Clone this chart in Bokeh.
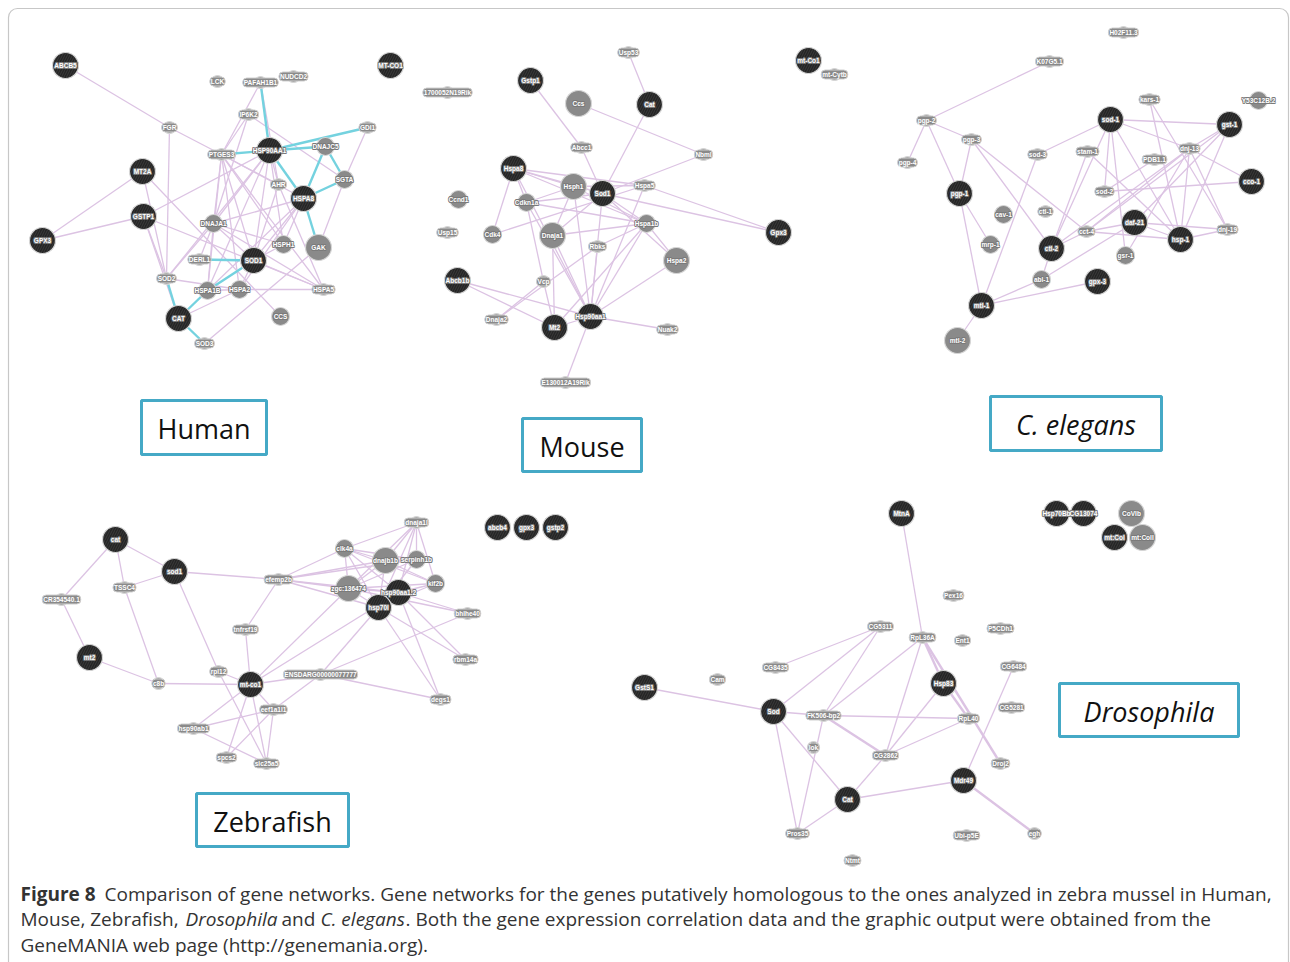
from bokeh.plotting import figure
from bokeh.models import Range1d, BoxAnnotation
from bokeh.core.properties import value
from bokeh.embed import file_html
from bokeh.resources import INLINE

# ---------------- Human ----------------
human_genes = ["ABCB5", "MT-CO1", "LCK", "PAFAH1B1", "NUDCD2", "IP6K2", "FGR", "GDI1",
               "PTGES3", "HSP90AA1", "DNAJC5", "AHR", "SGTA", "HSPA8", "MT2A", "GSTP1",
               "DNAJA1", "GPX3", "GAK", "HSPH1", "DERL1", "SOD1", "SOD2", "HSPA1B",
               "HSPA2", "HSPA5", "CAT", "CCS", "SOD3"]
human_x = [65, 390, 217, 260, 293, 248, 169, 367, 221, 269, 325, 278, 344, 303, 142, 143,
           213, 42, 318, 283, 199, 253, 166, 207, 239, 323, 178, 280, 204]
human_y = [65, 65, 81, 82, 76, 114, 127, 127, 154, 150, 146, 184, 179, 198, 171, 216,
           223, 240, 247, 244, 259, 260, 278, 290, 289, 289, 318, 316, 343]
human_query = [1, 1, 0, 0, 0, 0, 0, 0, 0, 1, 0, 0, 0, 1, 1, 1, 0, 1, 0, 0, 0, 1, 0, 0, 0, 0, 1, 0, 0]
human_score = [3, 3, 1, 1, 1, 1, 1, 1, 1, 3, 2, 1, 2, 3, 3, 3, 2, 3, 3, 2, 1, 3, 1, 2, 2, 1, 3, 2, 1]
human_coexp = [
    ("ABCB5", "FGR"), ("FGR", "PTGES3"), ("FGR", "SOD2"), ("MT2A", "GPX3"), ("GSTP1", "GPX3"),
    ("MT2A", "SOD2"), ("MT2A", "CCS"), ("GSTP1", "HSP90AA1"), ("GSTP1", "SOD2"), ("GSTP1", "HSPA5"),
    ("GSTP1", "CAT"), ("PAFAH1B1", "PTGES3"), ("PAFAH1B1", "AHR"), ("IP6K2", "PTGES3"),
    ("IP6K2", "SGTA"), ("IP6K2", "DNAJA1"), ("PTGES3", "DNAJA1"), ("PTGES3", "SOD1"),
    ("PTGES3", "HSPH1"), ("PTGES3", "AHR"), ("PTGES3", "HSPA5"), ("PTGES3", "HSPA2"),
    ("PTGES3", "HSPA1B"), ("PTGES3", "HSPA8"), ("HSP90AA1", "DNAJA1"), ("HSP90AA1", "SOD1"),
    ("HSP90AA1", "HSPH1"), ("HSP90AA1", "HSPA1B"), ("HSP90AA1", "AHR"), ("HSP90AA1", "SOD2"),
    ("DNAJA1", "HSPA8"), ("DNAJA1", "SOD1"), ("DNAJA1", "HSPA5"), ("DNAJA1", "HSPA1B"),
    ("DNAJA1", "HSPH1"), ("DNAJA1", "DERL1"), ("HSPA8", "SOD1"), ("HSPA8", "HSPH1"),
    ("HSPA8", "HSPA1B"), ("HSPA8", "HSPA2"), ("AHR", "HSPA5"), ("AHR", "SOD1"), ("GDI1", "SGTA"),
    ("SGTA", "GAK"), ("GAK", "SOD3"), ("HSPA1B", "HSPA2"), ("HSPA2", "HSPA5"), ("SOD1", "HSPA5"),
    ("SOD1", "HSPH1"), ("SOD1", "HSPA2"), ("SOD2", "DNAJA1"), ("SOD2", "HSPA2"), ("CAT", "HSPA2"),
]
human_interact = [
    ("PAFAH1B1", "HSP90AA1"), ("PTGES3", "HSP90AA1"), ("HSP90AA1", "GDI1"), ("HSP90AA1", "DNAJC5"),
    ("HSP90AA1", "HSPA8"), ("DNAJC5", "HSPA8"), ("DNAJC5", "SGTA"), ("SGTA", "HSPA8"),
    ("HSPA8", "GAK"), ("DERL1", "SOD1"), ("SOD1", "HSPA1B"), ("SOD2", "CAT"), ("CAT", "SOD3"),
    ("CAT", "HSPA1B"),
]

# ---------------- Mouse ----------------
mouse_genes = ["1700052N19Rik", "Gstp1", "Ccs", "Abcc1", "Hspa8", "Hsph1", "Sod1", "Cdkn1a",
               "Ccnd1", "Usp15", "Cdk4", "Dnaja1", "Rbks", "Abcb1b", "Vcp", "Dnaja2", "Mt2",
               "Hsp90aa1", "E130012A19Rik", "Usp53", "Cat", "Nbml", "Hspa5", "Hspa1b", "Hspa2",
               "Gpx3", "Nuak2", "mt-Co1", "mt-Cytb"]
mouse_x = [447, 530, 578, 581, 513, 573, 602, 526, 458, 447, 492, 552, 597, 457, 543, 496, 554,
           590, 565, 628, 649, 703, 644, 646, 676, 778, 667, 808, 834]
mouse_y = [92, 80, 103, 147, 168, 186, 193, 202, 199, 232, 234, 235, 246, 280, 281, 319, 327,
           316, 382, 52, 104, 154, 185, 223, 260, 232, 329, 60, 74]
mouse_query = [0, 1, 0, 0, 1, 0, 1, 0, 0, 0, 0, 0, 0, 1, 0, 0, 1, 1, 0, 0, 1, 0, 0, 0, 0, 1, 0, 1, 0]
mouse_score = [1, 3, 3, 1, 3, 3, 3, 2, 2, 1, 2, 3, 1, 3, 1, 1, 3, 3, 1, 1, 3, 1, 1, 2, 3, 3, 1, 3, 1]
mouse_coexp = [
    ("Usp53", "Cat"), ("Gstp1", "Abcc1"), ("Abcc1", "Sod1"), ("Ccs", "Nbml"), ("Cat", "Sod1"),
    ("Sod1", "Nbml"), ("Hspa8", "Hsph1"), ("Hspa8", "Sod1"), ("Hspa8", "Hspa5"), ("Hspa8", "Hspa1b"),
    ("Hspa8", "Cdk4"), ("Hspa8", "Hsp90aa1"), ("Hspa8", "Cdkn1a"), ("Hsph1", "Hsp90aa1"),
    ("Hsph1", "Dnaja1"), ("Hsph1", "Cdkn1a"), ("Hsph1", "Hspa5"), ("Hsph1", "Hspa1b"),
    ("Cdkn1a", "Hsp90aa1"), ("Cdkn1a", "Vcp"), ("Cdkn1a", "Hspa1b"), ("Cdkn1a", "Sod1"),
    ("Cdk4", "Hspa5"), ("Dnaja1", "Hsp90aa1"), ("Dnaja1", "Hspa1b"), ("Dnaja1", "Sod1"),
    ("Dnaja1", "Mt2"), ("Sod1", "Hspa1b"), ("Sod1", "Gpx3"), ("Hspa5", "Gpx3"), ("Sod1", "Hspa2"),
    ("Sod1", "Hsp90aa1"), ("Hspa5", "Hsp90aa1"), ("Hspa1b", "Hsp90aa1"), ("Hspa1b", "Hspa2"),
    ("Hspa2", "Hsp90aa1"), ("Hspa1b", "Rbks"), ("Rbks", "Dnaja2"), ("Rbks", "Hsp90aa1"),
    ("Vcp", "Dnaja2"), ("Vcp", "Mt2"), ("Mt2", "Hsp90aa1"), ("Abcb1b", "Hsp90aa1"),
    ("Abcb1b", "Mt2"), ("Hsp90aa1", "Nuak2"), ("Hsp90aa1", "E130012A19Rik"), ("Hspa1b", "Mt2"),
]

# ---------------- C. elegans ----------------
worm_genes = ["H02F11.3", "K07G5.1", "kars-1", "Y53C12B.2", "pgp-2", "sod-1", "gst-1", "pgp-3",
              "sod-3", "pgp-4", "stam-1", "dnj-13", "PDB1.1", "cco-1", "sod-2", "pgp-1", "cav-1",
              "ctl-1", "daf-21", "cct-4", "hsp-1", "dnj-19", "mrp-1", "ctl-2", "gsr-1", "abl-1",
              "gpx-3", "mtl-1", "mtl-2"]
worm_x = [1123, 1049, 1149, 1258, 926, 1110, 1229, 971, 1037, 907, 1087, 1189, 1154, 1251, 1104,
          959, 1003, 1045, 1134, 1086, 1180, 1227, 990, 1051, 1125, 1041, 1097, 981, 957]
worm_y = [32, 61, 99, 100, 120, 119, 124, 139, 154, 162, 151, 148, 159, 181, 191, 193, 214, 211,
          222, 231, 239, 229, 244, 248, 255, 279, 281, 305, 340]
worm_query = [0, 0, 0, 0, 0, 1, 1, 0, 0, 0, 0, 0, 0, 1, 0, 1, 0, 0, 1, 0, 1, 0, 0, 1, 0, 0, 1, 1, 0]
worm_score = [1, 1, 1, 2, 1, 3, 3, 1, 1, 1, 1, 1, 1, 3, 1, 3, 2, 1, 3, 1, 3, 1, 2, 3, 2, 2, 3, 3, 3]
worm_coexp = [
    ("K07G5.1", "pgp-2"), ("pgp-2", "pgp-4"), ("pgp-2", "pgp-3"), ("pgp-2", "pgp-1"),
    ("pgp-3", "pgp-1"), ("pgp-3", "ctl-2"), ("pgp-3", "cct-4"), ("pgp-1", "mrp-1"),
    ("pgp-1", "mtl-1"), ("sod-3", "sod-1"), ("sod-3", "mtl-1"), ("mtl-1", "mtl-2"),
    ("mtl-1", "abl-1"), ("mtl-1", "gpx-3"), ("abl-1", "daf-21"), ("ctl-2", "abl-1"),
    ("ctl-2", "sod-1"), ("ctl-2", "stam-1"), ("ctl-2", "cct-4"), ("sod-1", "gst-1"),
    ("sod-1", "dnj-13"), ("sod-1", "hsp-1"), ("sod-1", "sod-2"), ("sod-1", "gsr-1"),
    ("kars-1", "hsp-1"), ("kars-1", "dnj-19"), ("stam-1", "hsp-1"), ("gst-1", "dnj-13"),
    ("gst-1", "daf-21"), ("gst-1", "cct-4"), ("gst-1", "hsp-1"), ("dnj-13", "cco-1"),
    ("dnj-13", "hsp-1"), ("dnj-13", "dnj-19"), ("dnj-13", "gsr-1"), ("dnj-13", "cct-4"),
    ("PDB1.1", "sod-2"), ("sod-2", "cco-1"), ("daf-21", "hsp-1"), ("daf-21", "cct-4"),
    ("daf-21", "dnj-19"), ("cct-4", "hsp-1"), ("hsp-1", "dnj-19"), ("ctl-2", "dnj-13"),
]

# ---------------- Zebrafish ----------------
fish_genes = ["cat", "sod1", "TSSC4", "CR354540.1", "efemp2b", "tnfrsf19", "mt2", "rpl12", "c8b",
              "mt-co1", "ENSDARG00000077777", "eef1a1l1", "hsp90ab1", "spcs2", "slc25a5",
              "dnaja1l", "clk4a", "dnajb1b", "serpinh1b", "kif2b", "zgc:136474", "hsp90aa1.2",
              "hsp70l", "bhlhe40", "rbm14a", "degs1", "abcb4", "gpx3", "gstp2"]
fish_x = [115, 174, 124, 61, 278, 245, 89, 218, 158, 250, 320, 273, 193, 226, 266, 416, 344, 385,
          416, 435, 348, 398, 378, 467, 465, 440, 497, 526, 555]
fish_y = [539, 571, 587, 599, 579, 629, 657, 671, 683, 684, 674, 709, 728, 757, 763, 522, 548,
          560, 559, 583, 588, 592, 607, 613, 659, 699, 527, 527, 527]
fish_query = [1, 1, 0, 0, 0, 0, 1, 0, 0, 1, 0, 0, 0, 0, 0, 0, 0, 0, 0, 0, 0, 1, 1, 0, 0, 0, 1, 1, 1]
fish_score = [3, 3, 1, 1, 1, 1, 3, 1, 1, 3, 1, 1, 1, 1, 1, 1, 2, 3, 2, 2, 3, 3, 3, 1, 1, 1, 3, 3, 3]
fish_coexp = [
    ("cat", "CR354540.1"), ("CR354540.1", "mt2"), ("cat", "TSSC4"), ("cat", "sod1"),
    ("TSSC4", "sod1"), ("TSSC4", "c8b"), ("sod1", "efemp2b"), ("sod1", "rpl12"), ("mt2", "c8b"),
    ("c8b", "mt-co1"), ("tnfrsf19", "efemp2b"), ("tnfrsf19", "mt-co1"), ("efemp2b", "clk4a"),
    ("efemp2b", "zgc:136474"), ("efemp2b", "hsp70l"), ("efemp2b", "dnajb1b"),
    ("efemp2b", "serpinh1b"), ("efemp2b", "hsp90aa1.2"), ("mt-co1", "ENSDARG00000077777"),
    ("mt-co1", "hsp90aa1.2"), ("mt-co1", "zgc:136474"), ("mt-co1", "eef1a1l1"),
    ("mt-co1", "hsp90ab1"), ("mt-co1", "spcs2"), ("mt-co1", "slc25a5"), ("rpl12", "mt-co1"),
    ("rpl12", "slc25a5"), ("hsp90ab1", "eef1a1l1"), ("hsp90ab1", "slc25a5"), ("spcs2", "eef1a1l1"),
    ("slc25a5", "eef1a1l1"), ("eef1a1l1", "ENSDARG00000077777"), ("ENSDARG00000077777", "hsp70l"),
    ("ENSDARG00000077777", "bhlhe40"), ("ENSDARG00000077777", "degs1"), ("hsp70l", "degs1"),
    ("hsp90aa1.2", "degs1"), ("hsp90aa1.2", "rbm14a"), ("hsp70l", "rbm14a"),
    ("hsp90aa1.2", "bhlhe40"), ("zgc:136474", "bhlhe40"), ("clk4a", "dnaja1l"), ("clk4a", "dnajb1b"),
    ("clk4a", "serpinh1b"), ("clk4a", "hsp90aa1.2"), ("clk4a", "zgc:136474"), ("clk4a", "hsp70l"),
    ("clk4a", "kif2b"), ("dnaja1l", "dnajb1b"), ("dnaja1l", "serpinh1b"), ("dnaja1l", "hsp90aa1.2"),
    ("dnaja1l", "hsp70l"), ("dnaja1l", "kif2b"), ("dnaja1l", "zgc:136474"), ("dnajb1b", "zgc:136474"),
    ("dnajb1b", "hsp70l"), ("dnajb1b", "kif2b"), ("serpinh1b", "zgc:136474"), ("serpinh1b", "hsp70l"),
    ("kif2b", "zgc:136474"), ("kif2b", "hsp70l"), ("zgc:136474", "hsp90aa1.2"),
    ("zgc:136474", "hsp70l"), ("hsp90aa1.2", "hsp70l"), ("hsp90aa1.2", "kif2b"),
]

# ---------------- Drosophila ----------------
fly_genes = ["GstS1", "Cam", "CG8435", "CG5311", "Sod", "FK506-bp2", "lok", "CG2862", "Cat",
             "Pros35", "Ntmt", "MtnA", "Hsp70Bb", "CG13074", "CoVIb", "mt:CoI", "mt:CoII", "Pex16",
             "RpL36A", "Ent1", "P5CDh1", "CG6484", "Hsp83", "CG5281", "RpL40", "Droj2", "Mdr49",
             "Ubi-p5E", "egh"]
fly_x = [644, 717, 775, 880, 773, 823, 813, 885, 847, 797, 852, 901, 1056, 1083, 1131, 1114, 1142,
         953, 922, 962, 1000, 1013, 943, 1011, 968, 1000, 963, 966, 1034]
fly_y = [687, 679, 667, 626, 711, 715, 747, 755, 799, 833, 860, 513, 513, 513, 513, 537, 537, 595,
         637, 640, 628, 666, 683, 707, 718, 763, 780, 835, 833]
fly_query = [1, 0, 0, 0, 1, 0, 0, 0, 1, 0, 0, 1, 1, 1, 0, 1, 0, 0, 0, 0, 0, 0, 1, 0, 0, 0, 1, 0, 0]
fly_score = [3, 1, 1, 1, 3, 1, 1, 1, 3, 1, 1, 3, 3, 3, 3, 3, 3, 1, 1, 1, 1, 1, 3, 1, 1, 1, 3, 1, 1]
fly_coexp = [
    ("MtnA", "RpL36A"), ("RpL36A", "CG2862"), ("RpL36A", "FK506-bp2"), ("Hsp83", "CG2862"),
    ("RpL40", "CG2862"), ("RpL40", "FK506-bp2"), ("CG6484", "Mdr49"), ("Cat", "Mdr49"),
    ("Cat", "CG2862"), ("Cat", "Sod"), ("Cat", "Pros35"), ("Sod", "Pros35"), ("FK506-bp2", "Pros35"),
    ("Sod", "GstS1"), ("Sod", "CG5311"), ("CG5311", "CG8435"), ("CG5311", "FK506-bp2"),
    ("Sod", "FK506-bp2"),
]
fly_coexp_strong = [
    ("RpL36A", "Hsp83"), ("Hsp83", "RpL40"), ("RpL36A", "Droj2"), ("Mdr49", "egh"),
    ("FK506-bp2", "CG2862"),
]

# caption
caption_bold = "Figure 8"
caption_line1 = (" Comparison of gene networks. Gene networks for the genes putatively homologous "
                 "to the ones analyzed in zebra mussel in Human,")
caption_line2 = ["Mouse, Zebrafish, ", "Drosophila", " and ", "C. elegans",
                 ". Both the gene expression correlation data and the graphic output were obtained from the"]
caption_line3 = "GeneMANIA web page (http://genemania.org)."

PINK = "#dcc3e3"
CYAN = "#74d2df"
DIAM = {1: 12, 2: 18, 3: 26}
LABEL_FONT = dict(text_font=value("Liberation Sans"), text_font_size="6.5px",
                  text_font_style="bold", text_align="center", text_baseline="middle")

p = figure(width=1290, height=962, x_range=Range1d(0, 1290), y_range=Range1d(962, 0),
           x_axis_type=None, y_axis_type=None, min_border=0, toolbar_location=None,
           output_backend="svg", background_fill_color="white", border_fill_color="white")
p.grid.visible = False
p.outline_line_color = None

# outer panel frame
p.add_layout(BoxAnnotation(left=8, right=1288, top=8, bottom=990, fill_alpha=0,
                           line_color="#444444", line_width=1.2, border_radius=9))


def edge_coords(genes, xs, ys, pairs):
    pos = {g: (x, y) for g, x, y in zip(genes, xs, ys)}
    exs = [[pos[a][0], pos[b][0]] for a, b in pairs]
    eys = [[pos[a][1], pos[b][1]] for a, b in pairs]
    return exs, eys


def draw_network(genes, xs, ys, query, score, coexp, strong=None, strong_color=CYAN):
    ex, ey = edge_coords(genes, xs, ys, coexp)
    p.multi_line(ex, ey, line_color=PINK, line_width=1.3)
    if strong:
        sx, sy = edge_coords(genes, xs, ys, strong)
        p.multi_line(sx, sy, line_color=strong_color, line_width=2.4)
    for q in (0, 1):
        idx = [i for i in range(len(genes)) if query[i] == q]
        p.scatter([xs[i] for i in idx], [ys[i] for i in idx],
                  size=[DIAM[score[i]] for i in idx],
                  fill_color="#242424" if q else "#8a8a8a",
                  line_color="#d6d6d6", line_width=1.2,
                  hatch_pattern="right_diagonal_line" if q else None,
                  hatch_color="#3a3a3a", hatch_scale=5, hatch_weight=1)
    small = [i for i in range(len(genes)) if score[i] == 1]
    big = [i for i in range(len(genes)) if score[i] > 1]
    p.text([xs[i] for i in small], [ys[i] for i in small], text=[genes[i] for i in small],
           text_color="white", background_fill_color="#8a8a8a", border_line_color="#d0d0d0",
           border_line_width=1, border_radius=4, padding=1, **LABEL_FONT)
    # grey halo behind the labels of the larger nodes
    bx = [xs[i] for i in big]
    by = [ys[i] for i in big]
    bt = [genes[i] for i in big]
    for dx, dy in [(-0.8, 0), (0.8, 0), (0, -0.8), (0, 0.8),
                   (-0.6, -0.6), (0.6, 0.6), (-0.6, 0.6), (0.6, -0.6)]:
        p.text(bx, by, text=bt, x_offset=dx, y_offset=dy, text_color="#7a7a7a", **LABEL_FONT)
    p.text(bx, by, text=bt, text_color="white", **LABEL_FONT)


draw_network(human_genes, human_x, human_y, human_query, human_score, human_coexp, human_interact)
draw_network(mouse_genes, mouse_x, mouse_y, mouse_query, mouse_score, mouse_coexp)
draw_network(worm_genes, worm_x, worm_y, worm_query, worm_score, worm_coexp)
draw_network(fish_genes, fish_x, fish_y, fish_query, fish_score, fish_coexp)
draw_network(fly_genes, fly_x, fly_y, fly_query, fly_score, fly_coexp, fly_coexp_strong, PINK)

# species name boxes
species_boxes = [
    ("Human", 141, 266, 400, 454, "normal"),
    ("Mouse", 522, 641, 418, 471, "normal"),
    ("C. elegans", 990, 1161, 396, 450, "italic"),
    ("Zebrafish", 196, 348, 793, 846, "normal"),
    ("Drosophila", 1059, 1238, 683, 736, "italic"),
]
for name, l, r, t, b, style in species_boxes:
    p.quad(left=[l], right=[r], top=[t], bottom=[b], fill_color="white",
           line_color="#45a9c6", line_width=3)
    p.text([(l + r) / 2], [(t + b) / 2 + 1], text=[name], text_font=value("Open Sans"),
           text_font_size="27px", text_font_style=style, text_color="#111111",
           text_align="center", text_baseline="middle")

# caption
cap_kw = dict(text_font=value("Open Sans"), text_font_size="19px", text_color="#333333",
              text_align="left", text_baseline="middle")
p.text([20], [893], text=[caption_bold], text_font_style="bold", **cap_kw)
p.text([104], [893], text=[caption_line1], **cap_kw)
line2_x = [20, 185, 281, 320, 405]
line2_style = ["normal", "italic", "normal", "italic", "normal"]
for seg, sx, st in zip(caption_line2, line2_x, line2_style):
    p.text([sx], [918], text=[seg], text_font_style=st, **cap_kw)
p.text([20], [944], text=[caption_line3], **cap_kw)

open("out.html", "w").write(file_html(p, INLINE))
